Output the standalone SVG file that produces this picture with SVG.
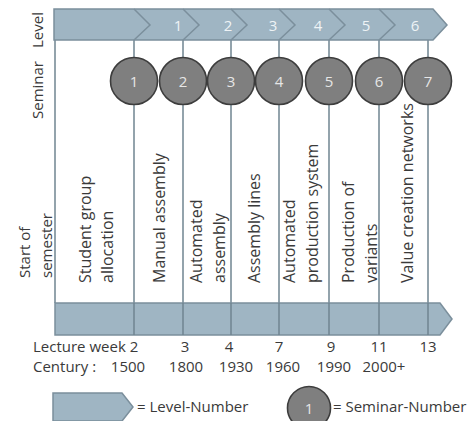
<svg xmlns="http://www.w3.org/2000/svg" width="467" height="421" viewBox="0 0 467 421">
<style>
text{font-family:"Open Sans","DejaVu Sans",sans-serif;font-size:15px;fill:#3a3a3a}
.topic{font-size:16px}
.bar{fill:#9fb5c3;stroke:#7b8f9c;stroke-width:1.5}
.chev{fill:none;stroke:#7b8f9c;stroke-width:1.5}
.vl{stroke:#6f8591;stroke-width:1.5}
.lvn{fill:#eef3f6;text-anchor:middle}
.sem{fill:#7f7f7f;stroke:#3d3d3d;stroke-width:1.6}
.semn{fill:#e6e6e6;text-anchor:middle}
.mid{text-anchor:middle}
</style>
<rect width="467" height="421" fill="#ffffff"/>

<g id="connectors">
  <line class="vl" x1="55" y1="40" x2="55" y2="303"/>
  <line class="vl" x1="134" y1="40" x2="134" y2="335"/>
  <line class="vl" x1="183" y1="40" x2="183" y2="335"/>
  <line class="vl" x1="231" y1="40" x2="231" y2="335"/>
  <line class="vl" x1="279" y1="40" x2="279" y2="335"/>
  <line class="vl" x1="329" y1="40" x2="329" y2="335"/>
  <line class="vl" x1="379" y1="40" x2="379" y2="335"/>
  <line class="vl" x1="428" y1="40" x2="428" y2="335"/>
</g>

<g id="level-bar">
  <polygon class="bar" points="54,9 433,9 447,25 433,40 54,40"/>
  <polyline class="chev" points="134,9 150,25 134,40"/>
  <polyline class="chev" points="183,9 199,25 183,40"/>
  <polyline class="chev" points="231,9 247,25 231,40"/>
  <polyline class="chev" points="279,9 295,25 279,40"/>
  <polyline class="chev" points="329,9 345,25 329,40"/>
  <polyline class="chev" points="379,9 395,25 379,40"/>
  <text class="lvn" x="178" y="30.5">1</text>
  <text class="lvn" x="228" y="30.5">2</text>
  <text class="lvn" x="273" y="30.5">3</text>
  <text class="lvn" x="318" y="30.5">4</text>
  <text class="lvn" x="366" y="30.5">5</text>
  <text class="lvn" x="415" y="30.5">6</text>
</g>

<g id="week-bar">
  <polygon class="bar" points="55,303 440,303 452,319 440,335 55,335"/>
  <line class="vl" x1="134" y1="303" x2="134" y2="335"/>
  <line class="vl" x1="183" y1="303" x2="183" y2="335"/>
  <line class="vl" x1="231" y1="303" x2="231" y2="335"/>
  <line class="vl" x1="279" y1="303" x2="279" y2="335"/>
  <line class="vl" x1="329" y1="303" x2="329" y2="335"/>
  <line class="vl" x1="379" y1="303" x2="379" y2="335"/>
  <line class="vl" x1="428" y1="303" x2="428" y2="335"/>
</g>

<g id="seminar-1"><circle class="sem" cx="134" cy="81" r="23.5"/><text class="semn" x="134" y="86.5">1</text></g>
<g id="seminar-2"><circle class="sem" cx="183" cy="81" r="23.5"/><text class="semn" x="183" y="86.5">2</text></g>
<g id="seminar-3"><circle class="sem" cx="231" cy="81" r="23.5"/><text class="semn" x="231" y="86.5">3</text></g>
<g id="seminar-4"><circle class="sem" cx="279" cy="81" r="23.5"/><text class="semn" x="279" y="86.5">4</text></g>
<g id="seminar-5"><circle class="sem" cx="329" cy="81" r="23.5"/><text class="semn" x="329" y="86.5">5</text></g>
<g id="seminar-6"><circle class="sem" cx="379" cy="81" r="23.5"/><text class="semn" x="379" y="86.5">6</text></g>
<g id="seminar-7"><circle class="sem" cx="428" cy="81" r="23.5"/><text class="semn" x="428" y="86.5">7</text></g>

<g id="row-labels">
  <text class="mid" transform="translate(43,30) rotate(-90)">Level</text>
  <text class="mid" transform="translate(43,90) rotate(-90)">Seminar</text>
  <text transform="translate(30,278) rotate(-90)">Start of</text>
  <text transform="translate(52,278) rotate(-90)">semester</text>
</g>

<g id="topics" class="topic">
  <text class="topic" transform="translate(91,283) rotate(-90)">Student group</text>
  <text class="topic" transform="translate(113,283) rotate(-90)">allocation</text>
  <text class="topic" transform="translate(165,283) rotate(-90)">Manual assembly</text>
  <text class="topic" transform="translate(202,283) rotate(-90)">Automated</text>
  <text class="topic" transform="translate(225,283) rotate(-90)">assembly</text>
  <text class="topic" transform="translate(260,283) rotate(-90)">Assembly lines</text>
  <text class="topic" transform="translate(295,283) rotate(-90)">Automated</text>
  <text class="topic" transform="translate(318,283) rotate(-90)">production system</text>
  <text class="topic" transform="translate(354,283) rotate(-90)">Production of</text>
  <text class="topic" transform="translate(377,283) rotate(-90)">variants</text>
  <text class="topic" transform="translate(413,283) rotate(-90)">Value creation networks</text>
</g>

<g id="weeks">
  <text x="33" y="352">Lecture week 2</text>
  <text class="mid" x="185" y="352">3</text>
  <text class="mid" x="229" y="352">4</text>
  <text class="mid" x="279" y="352">7</text>
  <text class="mid" x="331" y="352">9</text>
  <text class="mid" x="379" y="352">11</text>
  <text class="mid" x="428" y="352">13</text>
</g>

<g id="centuries">
  <text x="33" y="372">Century :</text>
  <text class="mid" x="128" y="372">1500</text>
  <text class="mid" x="186" y="372">1800</text>
  <text class="mid" x="236" y="372">1930</text>
  <text class="mid" x="283" y="372">1960</text>
  <text class="mid" x="334" y="372">1990</text>
  <text class="mid" x="384" y="372">2000+</text>
</g>

<g id="legend-level">
  <polygon class="bar" points="53,393 122,393 133,407 122,421 53,421"/>
  <text x="137" y="412">= Level-Number</text>
</g>
<g id="legend-seminar">
  <circle class="sem" cx="309" cy="408" r="21.5"/>
  <text class="semn" x="309" y="413.5">1</text>
  <text x="333" y="412">= Seminar-Number</text>
</g>
</svg>
